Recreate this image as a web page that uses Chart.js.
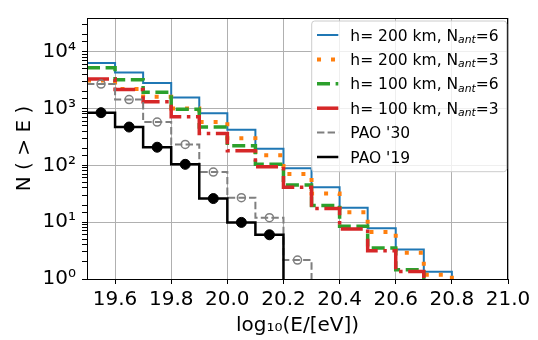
<!DOCTYPE html>
<html lang="en">
<head>
  <meta charset="UTF-8" />
  <title>Integral spectrum N(&gt;E)</title>
  <script src="https://cdn.jsdelivr.net/npm/chart.js"></script>
  <style>
    body { margin: 0; background: #fff; }
    #wrap { width: 538px; height: 340px; }
  </style>
</head>
<body>
  <div id="wrap"><canvas id="specChart" width="538" height="340"></canvas></div>

  <script>
    // histogram bins: first edge and width in log10(E/eV)
    const binStart = 19.5;
    const binWidth = 0.1;
    const xRange = [19.5, 21.0];
    const yRange = [1, 39000];
    const xTicks = [19.6, 19.8, 20.0, 20.2, 20.4, 20.6, 20.8, 21.0];
    const yTicks = [1, 10, 100, 1000, 10000];
    const yTickLabels = ['10⁰', '10¹', '10²', '10³', '10⁴'];

    // counts per bin
    const h200n6 = [6300, 4300, 2800, 1560, 820, 420, 195, 89, 41, 18, 7.8, 3.3, 1.34];
    const h200n3 = [3100, 2200, 1600, 1000, 580, 300, 150, 70, 32, 15, 6.7, 2.9, 1.19];
    const h100n6 = [5200, 3200, 1920, 970, 470, 221, 104, 45, 19.7, 8.5, 3.5, 1.45];
    const h100n3 = [3300, 2150, 1310, 713, 361, 180, 94, 41, 17.3, 7.6, 3.15, 1.35];
    const pao30 = [2690, 1430, 575, 233, 76, 27, 12, 2.15];
    const pao19 = [843, 471, 208, 104, 26, 9.9, 6.0];

    const legendLabels = [
      'h= 200 km, N_{ant}=6',
      'h= 200 km, N_{ant}=3',
      'h= 100 km, N_{ant}=6',
      'h= 100 km, N_{ant}=3',
      "PAO '30",
      "PAO '19"
    ];

    const FONT = '"DejaVu Sans", "Liberation Sans", sans-serif';

    // step outline: one point per bin edge, the closing edge drops to the axis floor
    function stepPoints(counts) {
      const pts = counts.map((c, i) => ({ x: binStart + i * binWidth, y: c }));
      pts.push({ x: binStart + counts.length * binWidth, y: yRange[0] });
      return pts;
    }

    function centerPoints(counts) {
      return counts.map((c, i) => ({ x: binStart + (i + 0.5) * binWidth, y: c }));
    }

    function decadeIndex(v) {
      return yTicks.findIndex(t => Math.abs(t - v) < 1e-9 * t);
    }

    // split "N_{ant}" into normal / subscript pieces
    function labelParts(label) {
      const out = [];
      const re = /_\{([^}]*)\}/g;
      let last = 0, m;
      while ((m = re.exec(label))) {
        out.push({ t: label.slice(last, m.index), sub: false });
        out.push({ t: m[1], sub: true });
        last = re.lastIndex;
      }
      out.push({ t: label.slice(last), sub: false });
      return out;
    }

    function drawLabel(ctx, label, x, y, size, measureOnly) {
      let cx = x;
      labelParts(label).forEach(p => {
        if (!p.t) return;
        ctx.font = p.sub ? `italic ${size * 0.7}px ${FONT}` : `${size}px ${FONT}`;
        if (!measureOnly) ctx.fillText(p.t, cx, p.sub ? y + size * 0.15 : y);
        cx += ctx.measureText(p.t).width;
      });
      return cx - x;
    }

    const frameAndLegend = {
      id: 'frameAndLegend',
      afterDatasetsDraw(chart) {
        const ctx = chart.ctx;
        const area = chart.chartArea;
        ctx.save();

        // full box around the axes
        ctx.strokeStyle = '#000';
        ctx.lineWidth = 1;
        ctx.setLineDash([]);
        ctx.strokeRect(Math.round(area.left) + 0.5, Math.round(area.top) + 0.5,
          Math.round(area.right - area.left) - 1, Math.round(area.bottom - area.top));

        // legend in upper right
        const size = 15.5;
        const rowH = 24.4;
        const widths = legendLabels.map(l => drawLabel(ctx, l, 0, 0, size, true));
        const boxW = 5.3 + 21.3 + 12 + Math.max(...widths) + 8;
        const boxH = rowH * legendLabels.length + 4.3;
        const x0 = area.right - 1.3 - boxW;
        const y0 = area.top + 3;

        ctx.beginPath();
        ctx.roundRect(x0, y0, boxW, boxH, 3);
        ctx.fillStyle = 'rgba(255,255,255,0.8)';
        ctx.fill();
        ctx.strokeStyle = '#cccccc';
        ctx.lineWidth = 1;
        ctx.stroke();

        legendLabels.forEach((label, i) => {
          const ds = chart.data.datasets[i];
          const yy = y0 + 14 + i * rowH;
          ctx.beginPath();
          ctx.setLineDash(ds.borderDash || []);
          ctx.lineCap = 'butt';
          ctx.lineWidth = ds.borderWidth;
          ctx.strokeStyle = ds.borderColor;
          ctx.moveTo(x0 + 5.3, yy);
          ctx.lineTo(x0 + 26.6, yy);
          ctx.stroke();

          ctx.setLineDash([]);
          ctx.fillStyle = '#000';
          ctx.textBaseline = 'alphabetic';
          drawLabel(ctx, label, x0 + 38.6, yy + size * 0.365, size, false);
        });

        ctx.restore();
      }
    };

    const lineBase = {
      stepped: true,
      fill: false,
      pointRadius: 0,
      borderCapStyle: 'butt',
      borderJoinStyle: 'miter'
    };

    const ctx = document.getElementById('specChart').getContext('2d');

    const specChart = new Chart(ctx, {
      type: 'line',
      data: {
        datasets: [
          { ...lineBase, label: legendLabels[0], data: stepPoints(h200n6),
            borderColor: '#1f77b4', borderWidth: 2, order: 6 },
          { ...lineBase, label: legendLabels[1], data: stepPoints(h200n3),
            borderColor: '#ff7f0e', borderWidth: 4, borderDash: [4, 10], order: 5 },
          { ...lineBase, label: legendLabels[2], data: stepPoints(h100n6),
            borderColor: '#2ca02c', borderWidth: 3.5, borderDash: [13, 5.6], order: 4 },
          { ...lineBase, label: legendLabels[3], data: stepPoints(h100n3),
            borderColor: '#d62728', borderWidth: 3.5, borderDash: [22, 5.6, 3.5, 5.6], order: 3 },
          { ...lineBase, label: legendLabels[4], data: stepPoints(pao30),
            borderColor: '#7f7f7f', borderWidth: 2, borderDash: [7.4, 3.2], order: 2 },
          { ...lineBase, label: legendLabels[5], data: stepPoints(pao19),
            borderColor: '#000000', borderWidth: 2.5, order: 1 },
          // markers at bin centres
          { label: 'pao30 markers', data: centerPoints(pao30), showLine: false,
            pointRadius: 4, pointBorderWidth: 1.5, pointBorderColor: '#7f7f7f',
            pointBackgroundColor: 'rgba(0,0,0,0)', order: 0 },
          { label: 'pao19 markers', data: centerPoints(pao19), showLine: false,
            pointRadius: 5, pointBorderWidth: 1, pointBorderColor: '#000',
            pointBackgroundColor: '#000', order: 0 }
        ]
      },
      options: {
        responsive: false,
        animation: false,
        events: [],
        layout: { padding: { top: 7, right: 30, left: 0, bottom: 0 } },
        plugins: {
          legend: { display: false },
          tooltip: { enabled: false }
        },
        scales: {
          x: {
            type: 'linear',
            min: xRange[0],
            max: xRange[1],
            afterBuildTicks: scale => { scale.ticks = xTicks.map(v => ({ value: v })); },
            afterFit: scale => { scale.height = 61; },
            ticks: {
              color: '#000',
              font: { family: FONT, size: 20 },
              padding: 4,
              maxRotation: 0,
              autoSkip: false,
              callback: v => v.toFixed(1)
            },
            grid: { color: '#b0b0b0', lineWidth: 1, tickColor: '#000', tickLength: 5 },
            border: { display: true, color: '#000', width: 1 },
            title: {
              display: true,
              text: 'log₁₀(E/[eV])',
              color: '#000',
              font: { family: FONT, size: 20 },
              padding: { top: 0, bottom: 2 }
            }
          },
          y: {
            type: 'logarithmic',
            min: yRange[0],
            max: yRange[1],
            afterFit: scale => { scale.width = 87; },
            ticks: {
              color: '#000',
              font: { family: FONT, size: 20 },
              padding: 6,
              autoSkip: false,
              callback: v => decadeIndex(v) >= 0 ? yTickLabels[decadeIndex(v)] : ''
            },
            grid: {
              lineWidth: 1,
              tickLength: 5,
              color: c => decadeIndex(c.tick.value) >= 0 ? '#b0b0b0' : 'rgba(0,0,0,0)',
              tickColor: c => c.tick.value < yRange[1] ? '#000' : 'rgba(0,0,0,0)'
            },
            border: { display: true, color: '#000', width: 1 },
            title: {
              display: true,
              text: 'N ( > E )',
              color: '#000',
              font: { family: FONT, size: 20 },
              padding: { top: 13, bottom: 0 }
            }
          }
        }
      },
      plugins: [frameAndLegend]
    });
  </script>
</body>
</html>
